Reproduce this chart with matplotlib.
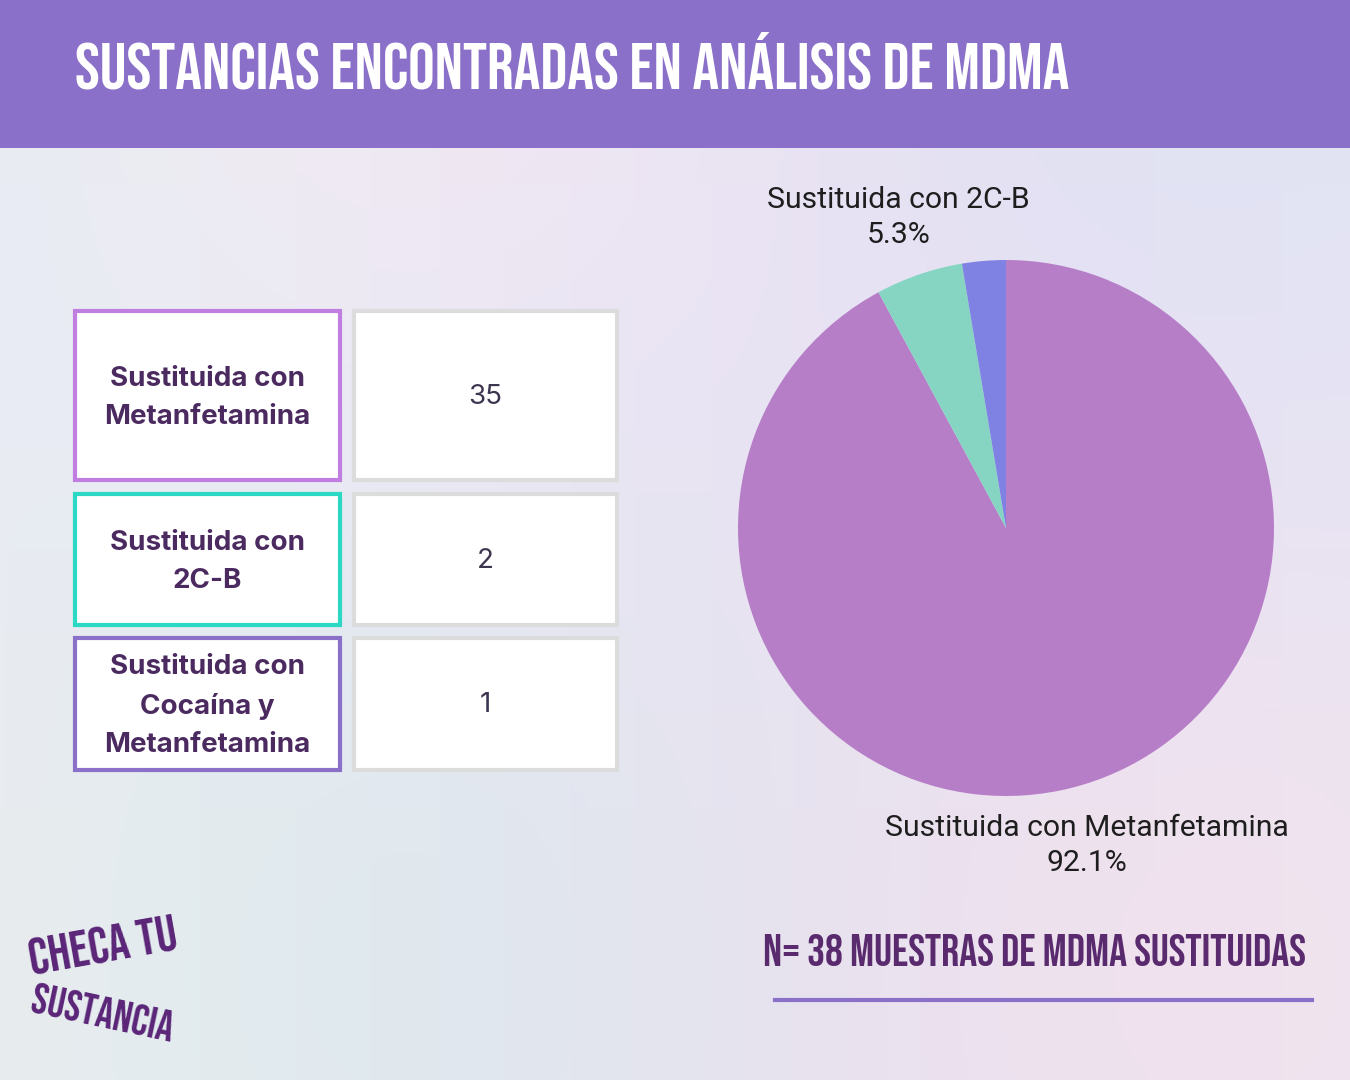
import numpy as np
import matplotlib.pyplot as plt
from matplotlib.patches import Rectangle
from matplotlib import font_manager

# =========================
# DATOS
# =========================
categorias = ['Sustituida con Metanfetamina', 'Sustituida con 2C-B',
              'Sustituida con Cocaína y Metanfetamina']
etiquetas_tabla = ['Sustituida con\nMetanfetamina', 'Sustituida con\n2C-B',
                   'Sustituida con\nCocaína y\nMetanfetamina']
muestras = [35, 2, 1]

colores_pie = ['#b77ec8', '#86d5c3', '#7f82e3']
colores_borde = ['#c07fe0', '#2ad8c4', '#8a70c8']

titulo = 'SUSTANCIAS ENCONTRADAS EN ANÁLISIS DE MDMA'
nota = 'N= %d MUESTRAS DE MDMA SUSTITUIDAS' % sum(muestras)

# =========================
# FUENTE ESTRECHA (si existe)
# =========================
nombres = set(f.name for f in font_manager.fontManager.ttflist)
estrecha = dict(family=['DejaVu Sans'], fontweight='bold')
for cand in ['Bebas Neue', 'Oswald', 'League Gothic', 'Anton', 'Fjalla One']:
    if cand in nombres:
        estrecha = dict(family=[cand, 'DejaVu Sans'], fontweight='bold')
        break


def ajustar_ancho(t, ancho_px):
    # escala el tamaño de letra para que el texto ocupe el ancho pedido
    r = fig.canvas.get_renderer()
    w = t.get_window_extent(r).width
    t.set_fontsize(t.get_fontsize() * ancho_px / w)


# =========================
# FIGURA Y FONDO
# =========================
W, H = 1350, 1080
fig = plt.figure(figsize=(13.5, 10.8), dpi=100)
fig.patch.set_facecolor('#e9e7f1')

bg = fig.add_axes([0, 0, 1, 1])
bg.set_xlim(0, W)
bg.set_ylim(H, 0)
bg.axis('off')

# fondo acuarela suave (degradado)
yy, xx = np.mgrid[0:H:4, 0:W:4]
r = np.clip(0.91 + 0.03 * np.sin(xx / 260.0) * np.cos(yy / 310.0), 0, 1)
g = np.clip(0.905 + 0.02 * np.cos(xx / 330.0), 0, 1)
b = np.clip(0.945 + 0.01 * np.sin(yy / 200.0), 0, 1)
bg.imshow(np.dstack([r, g, b]), extent=[0, W, H, 0], zorder=0, aspect='auto')

# banda del título
bg.add_patch(Rectangle((0, 0), W, 148, facecolor='#8a70c8', edgecolor='none', zorder=1))
t_tit = bg.text(75, 60, titulo, color='white', fontsize=40,
                va='center', ha='left', zorder=2, **estrecha)
ajustar_ancho(t_tit, 990)

# =========================
# TABLA
# =========================
tops = [311, 494, 638]
bottoms = [480, 625, 770]
for i, (lab, n) in enumerate(zip(etiquetas_tabla, muestras)):
    y0, y1 = tops[i], bottoms[i]
    bg.add_patch(Rectangle((75, y0), 265, y1 - y0, facecolor='white',
                           edgecolor=colores_borde[i], linewidth=3, zorder=2))
    bg.add_patch(Rectangle((354, y0), 263, y1 - y0, facecolor='white',
                           edgecolor='#dcdcdc', linewidth=3, zorder=2))
    bg.text(207, (y0 + y1) / 2 + 2, lab, ha='center', va='center', fontsize=20,
            fontweight='bold', color='#4b2a60', family='Inter', linespacing=1.6,
            zorder=3)
    bg.text(485, (y0 + y1) / 2 + 1, str(n), ha='center', va='center', fontsize=20,
            color='#3d3550', family='Inter', zorder=3)

# =========================
# PIE
# =========================
cx, cy, rad = 1006, 528, 268
ax = fig.add_axes([(cx - rad) / W, 1 - (cy + rad) / H, 2 * rad / W, 2 * rad / H])
wedges, _ = ax.pie(muestras, colors=colores_pie, startangle=90, counterclock=False,
                   wedgeprops=dict(linewidth=0))
ax.set_xlim(-1, 1)
ax.set_ylim(-1, 1)
ax.set_aspect('equal')
ax.axis('off')

total = sum(muestras)
pct = [100.0 * v / total for v in muestras]
ax.text(-0.40, 1.16, '%s\n%.1f%%' % (categorias[1], pct[1]), ha='center', va='center',
        fontsize=21.7, color='#1e1e1e', family='Roboto', linespacing=1.32, clip_on=False)
ax.text(0.30, -1.185, '%s\n%.1f%%' % (categorias[0], pct[0]), ha='center', va='center',
        fontsize=21.7, color='#1e1e1e', family='Roboto', linespacing=1.32, clip_on=False)

# =========================
# NOTA Y LOGO
# =========================
t_nota = bg.text(763, 950, nota, color='#5a2a6e', fontsize=30,
                 va='center', ha='left', zorder=3, **estrecha)
ajustar_ancho(t_nota, 542)
bg.plot([775, 1312], [1000, 1000], color='#8a70c8', linewidth=3, zorder=3)

t1 = bg.text(103, 945, 'CHECA tu', color='#5a2478', fontsize=30,
             va='center', ha='center', zorder=3, **estrecha)
ajustar_ancho(t1, 150)
t1.set_rotation(10)
t2 = bg.text(103, 1012, 'SUSTANCIA', color='#5a2478', fontsize=28,
             va='center', ha='center', zorder=3, **estrecha)
ajustar_ancho(t2, 145)
t2.set_rotation(-12)

fig.savefig('out.png', dpi=100)
